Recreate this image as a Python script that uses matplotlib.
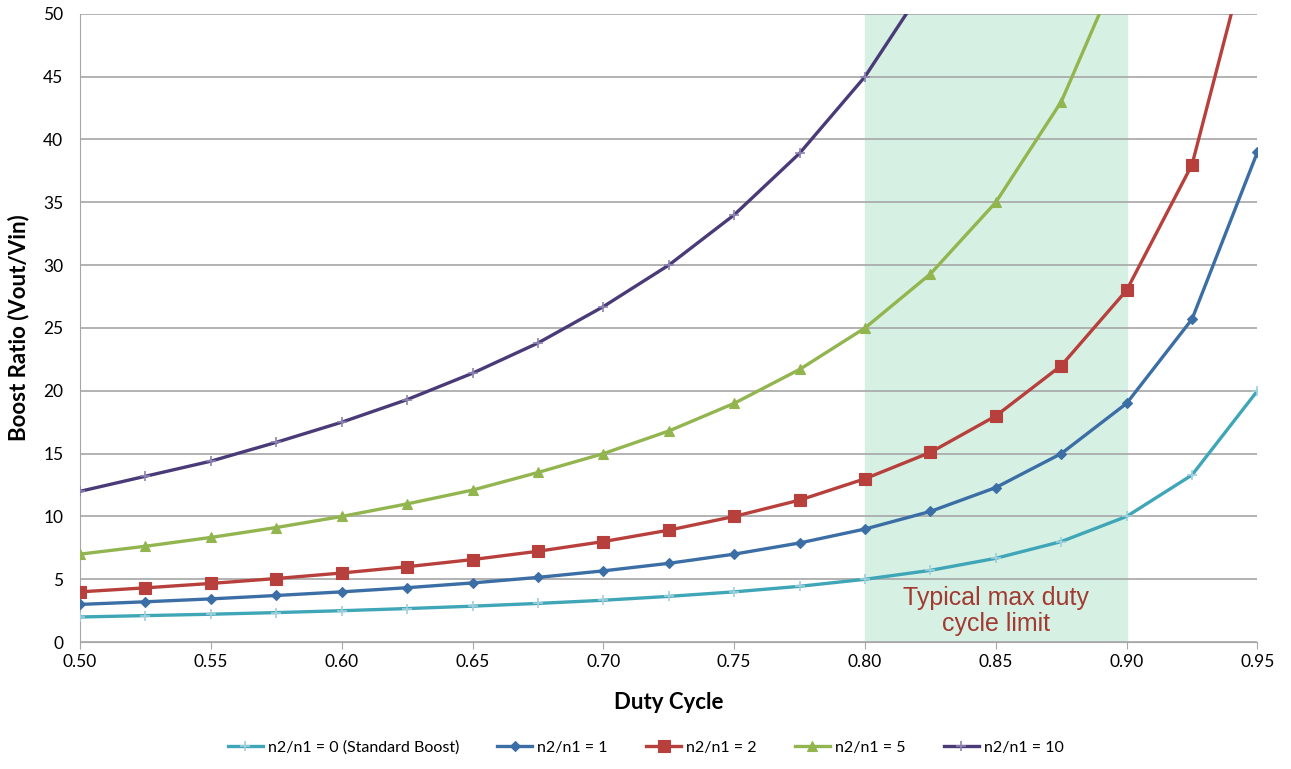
import matplotlib.pyplot as plt
import numpy as np

plt.rcParams['font.family'] = ['Lato', 'DejaVu Sans']

duty = [0.500, 0.525, 0.550, 0.575, 0.600, 0.625, 0.650, 0.675, 0.700, 0.725,
        0.750, 0.775, 0.800, 0.825, 0.850, 0.875, 0.900, 0.925, 0.950]

# boost ratio for each turns ratio
n0 = [2.0, 2.11, 2.22, 2.35, 2.5, 2.67, 2.86, 3.08, 3.33, 3.64,
      4.0, 4.44, 5.0, 5.71, 6.67, 8.0, 10.0, 13.3, 20.0]
n1 = [3.0, 3.21, 3.44, 3.71, 4.0, 4.33, 4.71, 5.15, 5.67, 6.27,
      7.0, 7.89, 9.0, 10.4, 12.3, 15.0, 19.0, 25.7, 39.0]
n2 = [4.0, 4.32, 4.67, 5.06, 5.5, 6.0, 6.57, 7.23, 8.0, 8.91,
      10.0, 11.3, 13.0, 15.1, 18.0, 22.0, 28.0, 38.0, 58.0]
n5 = [7.0, 7.63, 8.33, 9.12, 10.0, 11.0, 12.1, 13.5, 15.0, 16.8,
      19.0, 21.7, 25.0, 29.3, 35.0, 43.0, 55.0, 75.0, 115.0]
n10 = [12.0, 13.2, 14.4, 15.9, 17.5, 19.3, 21.4, 23.8, 26.7, 30.0,
       34.0, 38.9, 45.0, 52.9, 63.3, 83.0, 105.0, 140.0, 210.0]

series = [
    ("n2/n1 = 0 (Standard Boost)", n0, "#3fa6b8", "+", 7, "#9fd0dc"),
    ("n2/n1 = 1", n1, "#3c6ea6", "D", 5, "#3c6ea6"),
    ("n2/n1 = 2", n2, "#b8403c", "s", 8, "#b8403c"),
    ("n2/n1 = 5", n5, "#93b54f", "^", 7, "#93b54f"),
    ("n2/n1 = 10", n10, "#4a3b78", "+", 7, "#8c84b0"),
]

fig = plt.figure(figsize=(12.91, 7.69), dpi=100)
ax = fig.add_axes([0.062, 0.165, 0.912, 0.817])

ax.axvspan(0.80, 0.90, color="#d6f1e3", zorder=0)

for label, vals, color, marker, ms, edge in series:
    ax.plot(duty, vals, color=color, lw=2.4, marker=marker, ms=ms,
            mew=1.2 if marker == "+" else 0.8, mec=edge,
            label=label, zorder=3)

ax.text(0.85, 2.5, "Typical max duty\ncycle limit", ha="center", va="center",
        fontsize=18, color="#a23a32", family=["Liberation Sans"], linespacing=1.1)

ax.set_xlim(0.5, 0.95)
ax.set_ylim(0, 50)
ticks = np.arange(0.50, 0.951, 0.05)
ax.set_xticks(ticks)
ax.set_xticklabels([f"{t:.2f}" for t in ticks])
ax.set_yticks(range(0, 51, 5))
ax.grid(axis="y", color="#a6a6a6", lw=1.2)
ax.set_axisbelow(True)
for s in ["top", "right"]:
    ax.spines[s].set_visible(False)
ax.spines["left"].set_color("#a6a6a6")
ax.spines["bottom"].set_color("#a6a6a6")
ax.tick_params(axis="both", labelsize=12.5, color="#a6a6a6", length=5)
ax.tick_params(axis="y", length=0, pad=12)

ax.set_xlabel("Duty Cycle", fontsize=16, fontweight="bold", labelpad=16)
ax.set_ylabel("Boost Ratio (Vout/Vin)", fontsize=16, fontweight="bold", labelpad=10)

fig.legend(loc="lower center", bbox_to_anchor=(0.5, 0.0), ncol=5, frameon=False,
           fontsize=11.5, handlelength=2.2, handletextpad=0.3, columnspacing=2.4)

fig.savefig("out.png", dpi=100)
